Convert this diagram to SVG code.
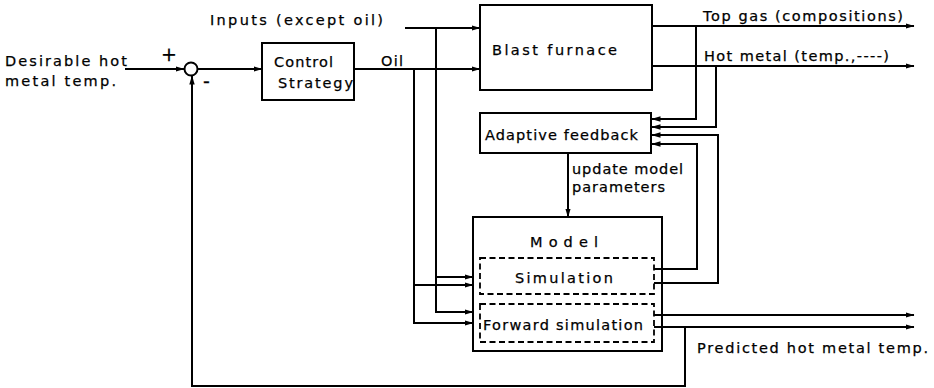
<svg xmlns="http://www.w3.org/2000/svg" width="934" height="388" viewBox="0 0 934 388">
<defs>
<marker id="ah" markerUnits="userSpaceOnUse" markerWidth="9" markerHeight="7" refX="8.5" refY="3.5" orient="auto">
<path d="M0,0.8 L9,3.5 L0,6.2 z" fill="#000"/>
</marker>
<style>
.t{font-family:"DejaVu Sans","Liberation Sans",Arial,sans-serif;font-size:14.5px;fill:#000;stroke:#000;stroke-width:0.25}
.s{font-size:19px}
.b{fill:#fff;stroke:#000;stroke-width:2}
.d{fill:none;stroke:#000;stroke-width:1.8;stroke-dasharray:6 3.5}
.c{fill:none;stroke:#000;stroke-width:2}
.a{marker-end:url(#ah)}
</style>
</defs>
<rect width="934" height="388" fill="#fff"/>
<g id="labels">
<text class="t" x="5" y="66" textLength="122" lengthAdjust="spacing">Desirable hot</text>
<text class="t" x="5" y="86" textLength="111" lengthAdjust="spacing">metal temp.</text>
<text class="t s" x="161" y="61">+</text>
<text class="t s" x="203" y="88">-</text>
<text class="t" x="210" y="25" textLength="173" lengthAdjust="spacing">Inputs (except oil)</text>
<text class="t" x="381" y="66" textLength="22" lengthAdjust="spacing">Oil</text>
<text class="t" x="703" y="21" textLength="200" lengthAdjust="spacing">Top gas (compositions)</text>
<text class="t" x="704" y="61" textLength="185" lengthAdjust="spacing">Hot metal (temp.,----)</text>
<text class="t" x="572" y="174" textLength="111" lengthAdjust="spacing">update model</text>
<text class="t" x="572" y="192" textLength="93" lengthAdjust="spacing">parameters</text>
<text class="t" x="697" y="353" textLength="231" lengthAdjust="spacing">Predicted hot metal temp.</text>
</g>
<g id="sum">
<circle cx="191" cy="69" r="6.5" fill="#fff" stroke="#000" stroke-width="2"/>
</g>
<g id="control">
<rect class="b" x="262" y="43" width="92" height="57"/>
<text class="t" x="274" y="67" textLength="59" lengthAdjust="spacing">Control</text>
<text class="t" x="278" y="88" textLength="75" lengthAdjust="spacing">Strategy</text>
</g>
<g id="blast">
<rect class="b" x="480" y="5" width="172" height="85"/>
<text class="t" x="492" y="55" textLength="125" lengthAdjust="spacing">Blast furnace</text>
</g>
<g id="adaptive">
<rect class="b" x="480" y="113" width="171" height="40"/>
<text class="t" x="485" y="140" textLength="153" lengthAdjust="spacing">Adaptive feedback</text>
</g>
<g id="model">
<rect class="b" x="473" y="217" width="189" height="134"/>
<text class="t" x="530" y="247" textLength="68" lengthAdjust="spacing">Model</text>
</g>
<g id="simulation">
<rect class="d" x="480" y="258" width="174" height="36"/>
<text class="t" x="515" y="283" textLength="98" lengthAdjust="spacing">Simulation</text>
</g>
<g id="forward">
<rect class="d" x="480" y="304" width="174" height="38"/>
<text class="t" x="483" y="330" textLength="160" lengthAdjust="spacing">Forward simulation</text>
</g>
<g id="connectors">
<path class="c a" d="M125,69 H184"/>
<path class="c a" d="M198,69 H262"/>
<path class="c a" d="M354,69 H480"/>
<path class="c a" d="M405,28 H480"/>
<path class="c a" d="M436,28 V312 H473"/>
<path class="c a" d="M436,277 H473"/>
<path class="c a" d="M414,69 V323 H473"/>
<path class="c a" d="M414,285 H473"/>
<path class="c a" d="M652,26 H914"/>
<path class="c a" d="M652,66 H914"/>
<path class="c a" d="M696,26 V119 H652"/>
<path class="c a" d="M716,66 V127 H652"/>
<path class="c a" d="M654,269 H697 V144 H652"/>
<path class="c a" d="M654,283 H718 V135 H652"/>
<path class="c a" d="M568,153 V217"/>
<path class="c a" d="M654,315 H914"/>
<path class="c a" d="M654,327 H914"/>
<path class="c a" d="M685,327 V386 H192 V76"/>
</g>
</svg>
